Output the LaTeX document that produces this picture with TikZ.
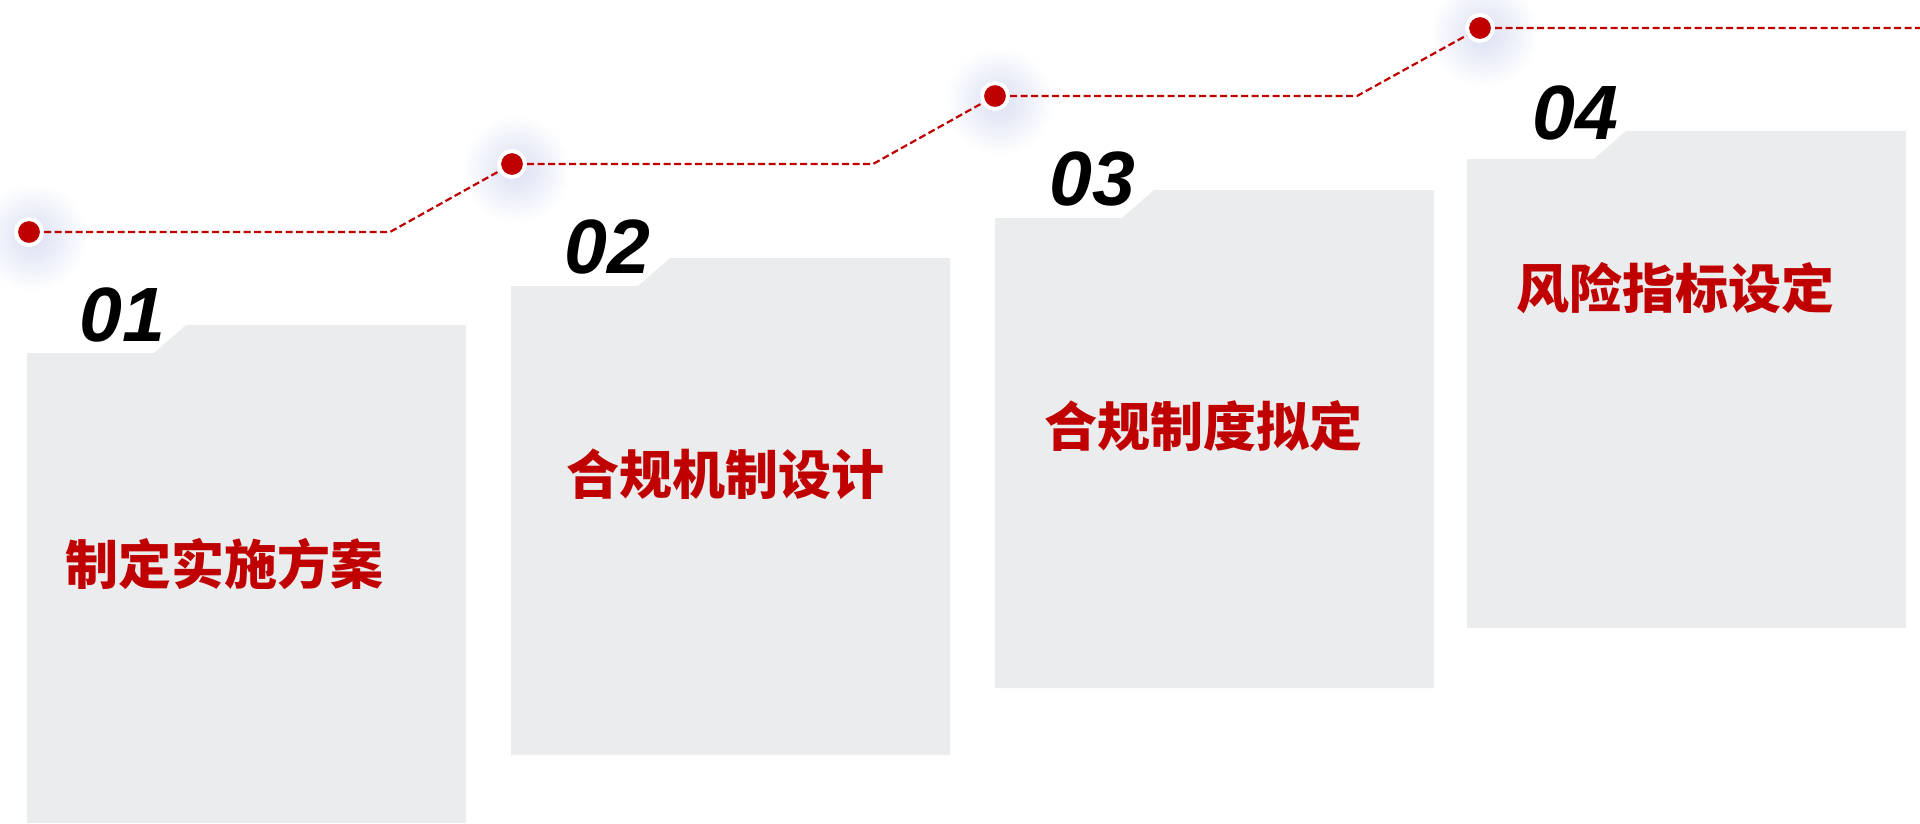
\documentclass[tikz,border=0pt]{standalone}
\usepackage{fontspec}
\usepackage{xcolor}
\usepackage{tikz}
\usetikzlibrary{calc}

\newfontfamily\numfont{Liberation Sans}
\newfontfamily\cjk{Noto Sans CJK SC}
\definecolor{stepred}{RGB}{192,0,0}
\definecolor{cardgray}{RGB}{235,236,238}
\definecolor{glowblue}{RGB}{218,223,242}

\begin{document}
\begin{tikzpicture}[
  x=1pt, y=-1pt,
  card/.style={fill=cardgray},
  glow/.style={inner color=glowblue, outer color=white},
  dot/.style={circle, fill=stepred, draw=white, line width=4pt, minimum size=26pt, inner sep=0pt},
  link/.style={draw=stepred, line width=2.2pt, dash pattern=on 7pt off 3.5pt},
  num/.style={anchor=base west, inner sep=0pt, font=\numfont\bfseries\itshape\fontsize{77}{80}\selectfont},
  title/.style={inner sep=0pt, text=stepred, font=\cjk\bfseries\fontsize{53}{60}\selectfont}
]
\useasboundingbox (0,0) rectangle (1920,823);
\fill[white] (0,0) rectangle (1920,823);

% cards
\fill[card] (27,353) -- (154,353) -- (186,325) -- (466,325) -- (466,823) -- (27,823) -- cycle;
\fill[card] (511,286) -- (638,286) -- (670,258) -- (950,258) -- (950,755) -- (511,755) -- cycle;
\fill[card] (995,218) -- (1122,218) -- (1154,190) -- (1434,190) -- (1434,688) -- (995,688) -- cycle;
\fill[card] (1467,159) -- (1594,159) -- (1626,131) -- (1906,131) -- (1906,628) -- (1467,628) -- cycle;

% milestones
\coordinate (p1) at (29,232);
\coordinate (p2) at (512,164);
\coordinate (p3) at (995,96);
\coordinate (p4) at (1480,28);
\shade[glow] ($(p1)+(4,5)$) circle (54);
\shade[glow] ($(p2)+(4,5)$) circle (54);
\shade[glow] ($(p3)+(4,5)$) circle (54);
\shade[glow] ($(p4)+(4,5)$) circle (54);
\node[dot] (d1) at (p1) {};
\node[dot] (d2) at (p2) {};
\node[dot] (d3) at (p3) {};
\node[dot] (d4) at (p4) {};

\coordinate (b1) at (390,232);
\coordinate (b2) at (873,164);
\coordinate (b3) at (1357,96);
\coordinate (e) at (1920,28);
\draw[link] (d1) -- (b1) -- (d2) -- (b2) -- (d3) -- (b3) -- (d4) -- (e);

% numbers
\node[num] (n1) at (79,341) {01};
\node[num] (n2) at (564,273) {02};
\node[num] (n3) at (1049,205) {03};
\node[num] (n4) at (1532,139) {04};

% titles
\node[title] (t1) at (224.5,564) {制定实施方案};
\node[title] (t2) at (725.5,474) {合规机制设计};
\node[title] (t3) at (1203.5,426.5) {合规制度拟定};
\node[title] (t4) at (1675.5,288) {风险指标设定};
\end{tikzpicture}
\end{document}
